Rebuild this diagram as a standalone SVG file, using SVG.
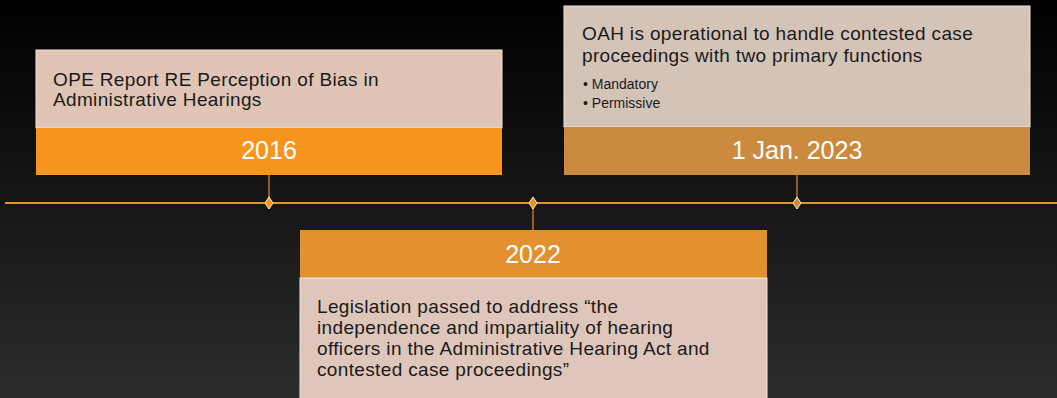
<svg xmlns="http://www.w3.org/2000/svg" width="1057" height="398" viewBox="0 0 1057 398">
  <defs>
    <linearGradient id="bg" x1="0" y1="0" x2="0" y2="1">
      <stop offset="0" stop-color="#000000"/>
      <stop offset="1" stop-color="#2c2c2c"/>
    </linearGradient>
    <style>
      .body { font-family: "Liberation Sans", Arial, sans-serif; font-size: 19px; letter-spacing: 0.35px; fill: #1a1a1a; }
      .bullet { font-family: "Liberation Sans", Arial, sans-serif; font-size: 14px; fill: #1a1a1a; }
      .year { font-family: "Liberation Sans", Arial, sans-serif; font-size: 25px; fill: #ffffff; text-anchor: middle; }
      .content { stroke: #f2e6de; stroke-width: 1; }
      .conn { stroke: #e58f2a; stroke-width: 1.2; fill: none; }
      .axis { stroke: #e8922a; stroke-width: 2; fill: none; }
      .dia { stroke: #fbe9d8; stroke-width: 1; }
    </style>
  </defs>
  <rect x="0" y="0" width="1057" height="398" fill="url(#bg)"/>

  <g id="connectors">
    <line class="axis" x1="5" y1="203" x2="1057" y2="203"/>
    <line class="conn" x1="269" y1="175" x2="269" y2="203"/>
    <line class="conn" x1="797" y1="175" x2="797" y2="203"/>
    <line class="conn" x1="533" y1="203" x2="533" y2="230"/>
    <polygon class="dia" points="269,197 273,203 269,209 265,203" fill="#f7941e"/>
    <polygon class="dia" points="533,197 537,203 533,209 529,203" fill="#e3902e"/>
    <polygon class="dia" points="797,197 801,203 797,209 793,203" fill="#cc8a3e"/>
  </g>

  <g id="node-2016">
    <rect class="content" x="36" y="50" width="466" height="78" fill="#e0c4b5"/>
    <rect x="36" y="128" width="466" height="47" fill="#f7941e"/>
    <text class="body" x="53" y="86">OPE Report RE Perception of Bias in</text>
    <text class="body" x="53" y="106">Administrative Hearings</text>
    <text class="year" x="269" y="159">2016</text>
  </g>

  <g id="node-2023">
    <rect class="content" x="564" y="6" width="466" height="121" fill="#d4c4b8"/>
    <rect x="564" y="127" width="466" height="48" fill="#cc8a3e"/>
    <text class="body" x="582" y="40">OAH is operational to handle contested case</text>
    <text class="body" x="582" y="62">proceedings with two primary functions</text>
    <text class="bullet" x="583" y="89">• Mandatory</text>
    <text class="bullet" x="583" y="108">• Permissive</text>
    <text class="year" x="797" y="159">1 Jan. 2023</text>
  </g>

  <g id="node-2022">
    <rect x="300" y="230" width="467" height="48" fill="#e3902e"/>
    <rect class="content" x="300" y="278" width="467" height="125" fill="#dfc6ba"/>
    <text class="year" x="533" y="263">2022</text>
    <text class="body" x="317" y="313">Legislation passed to address “the</text>
    <text class="body" x="317" y="334">independence and impartiality of hearing</text>
    <text class="body" x="317" y="355">officers in the Administrative Hearing Act and</text>
    <text class="body" x="317" y="376">contested case proceedings”</text>
  </g>
</svg>
